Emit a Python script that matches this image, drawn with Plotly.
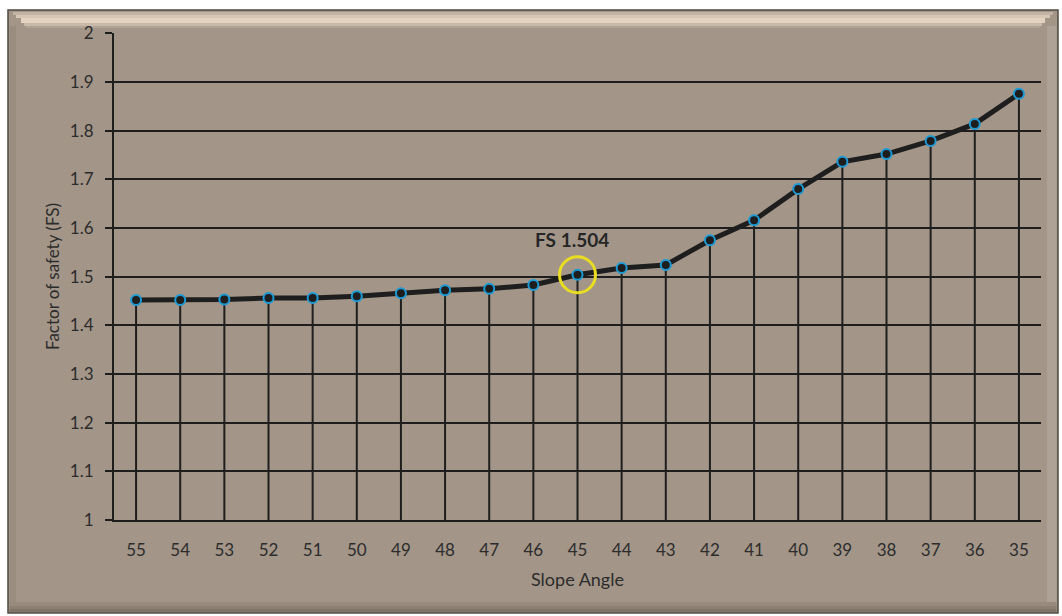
import plotly.graph_objects as go

# Slope angle (degrees) and the computed factor of safety
slope_angle = ["55", "54", "53", "52", "51", "50", "49", "48", "47", "46", "45",
               "44", "43", "42", "41", "40", "39", "38", "37", "36", "35"]
factor_of_safety = [1.452, 1.452, 1.453, 1.456, 1.456, 1.460, 1.466, 1.472, 1.475, 1.483, 1.504,
                    1.518, 1.524, 1.575, 1.616, 1.680, 1.736, 1.752, 1.779, 1.814, 1.876]
y_ticks = [1, 1.1, 1.2, 1.3, 1.4, 1.5, 1.6, 1.7, 1.8, 1.9, 2]
highlight_angle = "45"
highlight_fs = 1.504

BG = "#a39689"
INK = "#1e1e1e"
TEXT = "#2c2c2c"
FONT = "Lato"

# plot-area geometry in pixels (used to place the decorative frame)
W, H = 1062, 616
L, R, T, B = 114, 21, 33, 96
PW, PH = W - L - R, H - T - B


def px(x):
    return (x - L) / PW


def py(y):
    return (H - B - y) / PH


fig = go.Figure()

# Curve with markers; asymmetric error bars act as drop lines to the x axis
fig.add_trace(go.Scatter(
    x=slope_angle, y=factor_of_safety,
    mode="lines+markers",
    line=dict(color=INK, width=5),
    marker=dict(size=10, color=INK, line=dict(color="#1c9ad6", width=2)),
    error_y=dict(type="data", symmetric=False,
                 array=[0] * len(factor_of_safety),
                 arrayminus=[v - 1 for v in factor_of_safety],
                 color=INK, thickness=2, width=0),
    showlegend=False, hoverinfo="x+y",
))

# Highlight ring around the design point
fig.add_trace(go.Scatter(
    x=[highlight_angle], y=[highlight_fs], mode="markers",
    marker=dict(size=36, symbol="circle-open", color="#e9dd22",
                line=dict(color="#e9dd22", width=3)),
    showlegend=False, hoverinfo="skip",
))

fig.add_annotation(
    x=slope_angle.index(highlight_angle), y=highlight_fs,
    text=f"<b>FS {highlight_fs:.3f}</b>",
    showarrow=False, yshift=35, xshift=-6,
    font=dict(family=FONT, size=19, color="#262626"),
)

# Framed, bevelled panel behind the chart
fig.add_shape(type="rect", xref="paper", yref="paper",
              x0=px(8), x1=px(1058), y0=py(613), y1=py(10),
              line=dict(color="#4e4942", width=1.5), fillcolor=BG, layer="below")
# top highlight (soft gradient made of thin bands)
for y0, y1, col in [(12, 15, "#c2b4a5"), (15, 18, "#d6c6b4"), (18, 23, "#e4d3c0"),
                    (23, 26, "#c8b9a9"), (26, 28, "#b0a394")]:
    fig.add_shape(type="rect", xref="paper", yref="paper",
                  x0=px(10 + (y1 - 12)), x1=px(1056 - (y1 - 12)), y0=py(y1), y1=py(y0),
                  line=dict(width=0), fillcolor=col, layer="below")
# left and right bevels
fig.add_shape(type="rect", xref="paper", yref="paper",
              x0=px(9.5), x1=px(16), y0=py(605), y1=py(26),
              line=dict(width=0), fillcolor="#9a8d80", layer="below")
fig.add_shape(type="rect", xref="paper", yref="paper",
              x0=px(1047), x1=px(1056.5), y0=py(604), y1=py(26),
              line=dict(width=0), fillcolor="#aea296", layer="below")
# bottom shadow
for y0, y1, col in [(602, 606, "#988b7e"), (606, 609, "#8c8073"), (609, 612, "#7f7468")]:
    fig.add_shape(type="rect", xref="paper", yref="paper",
                  x0=px(9.5), x1=px(1056.5), y0=py(y1), y1=py(y0),
                  line=dict(width=0), fillcolor=col, layer="below")

fig.update_layout(
    width=W, height=H,
    margin=dict(l=L, r=R, t=T, b=B),
    paper_bgcolor="white", plot_bgcolor=BG,
    font=dict(family=FONT, size=17, color=TEXT),
    xaxis=dict(
        type="category", range=[-0.5, len(slope_angle) - 0.5],
        showgrid=False, showline=True, linecolor=INK, linewidth=2,
        ticks="", ticklabelstandoff=14, tickfont=dict(size=17, color=TEXT),
        title=dict(text="Slope Angle", font=dict(size=18, color=TEXT), standoff=14),
        zeroline=False,
    ),
    yaxis=dict(
        range=[1, 2.0008], tickvals=y_ticks, ticktext=[f"{v:g}" for v in y_ticks],
        showgrid=True, gridcolor=INK, gridwidth=2,
        showline=True, linecolor=INK, linewidth=2,
        ticks="outside", ticklen=7, tickwidth=2, tickcolor=INK,
        ticklabelstandoff=8, tickfont=dict(size=17, color=TEXT),
        title=dict(text="Factor of safety (FS)", font=dict(size=17, color=TEXT), standoff=6),
        zeroline=False,
    ),
)

fig.write_html("out.html")
